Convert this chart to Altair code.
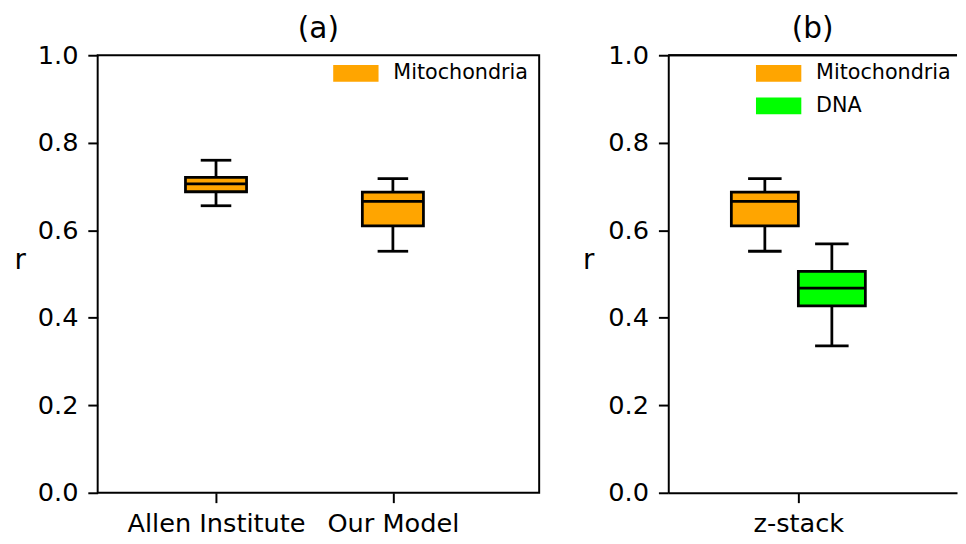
import altair as alt
import pandas as pd

# ---------------- data ----------------
a_groups = ["Allen Institute", "Our Model"]
a_series = ["Mitochondria", "Mitochondria"]
a_lower = [0.656, 0.552]
a_q1 = [0.688, 0.610]
a_median = [0.706, 0.666]
a_q3 = [0.721, 0.687]
a_upper = [0.760, 0.718]

b_groups = ["z-stack"]
b_series = ["Mitochondria", "DNA"]
b_lower = [0.552, 0.336]
b_q1 = [0.610, 0.427]
b_median = [0.666, 0.468]
b_q3 = [0.687, 0.506]
b_upper = [0.718, 0.569]

series_names = ["Mitochondria", "DNA"]
series_colors = ["#FFA500", "#00FF00"]
y_ticks = [0.0, 0.2, 0.4, 0.6, 0.8, 1.0]
panel_titles = ["(a)", "(b)"]
y_title = "r"

# ---------------- styling ----------------
FONT = "DejaVu Sans"
LW = 2.8
BLACK = "black"

# box positions (layout only)
a_pos = [i + 1 for i in range(len(a_groups))]
b_pos = [1 + (i - (len(b_series) - 1) / 2) * 0.4 for i in range(len(b_series))]

df_a = pd.DataFrame({"series": a_series, "lower": a_lower, "q1": a_q1,
                     "median": a_median, "q3": a_q3, "upper": a_upper, "pos": a_pos})
df_b = pd.DataFrame({"series": b_series, "lower": b_lower, "q1": b_q1,
                     "median": b_median, "q3": b_q3, "upper": b_upper, "pos": b_pos})


def y_axis(domain, title_x):
    return alt.Axis(values=y_ticks, format=".1f", title=y_title, titleAngle=0,
                    titleX=title_x, titleY=216, titleAlign="left",
                    titleBaseline="alphabetic", domain=domain)


def x_axis(labels, domain):
    expr = " : ".join(
        [f"datum.value == {i + 1} ? '{lab}'" for i, lab in enumerate(labels)]
    ) + " : ''"
    return alt.Axis(values=[i + 1 for i in range(len(labels))], labelExpr=expr,
                    title=None, domain=domain)


def legend(lx, ly):
    return alt.Legend(orient="none", legendX=lx, legendY=ly, title=None,
                      symbolType="M-1,-0.37H1V0.37H-1Z", symbolSize=2116,
                      symbolStrokeWidth=0, labelFontSize=21, labelFont=FONT,
                      labelColor=BLACK, labelOffset=15, padding=0,
                      rowPadding=0, labelLimit=0)


def panel(df, xdomain, half, xaxis, yaxis, cdomain, crange, leg, top_line):
    base = alt.Chart(df).transform_calculate(
        x1=f"datum.pos - {half}", x2=f"datum.pos + {half}",
        c1=f"datum.pos - {half / 2}", c2=f"datum.pos + {half / 2}")
    xs = alt.Scale(domain=xdomain, nice=False, zero=False)
    ys = alt.Scale(domain=[0, 1], nice=False, zero=False)
    whisk = base.mark_rule(color=BLACK, strokeWidth=LW).encode(
        x=alt.X("pos:Q", scale=xs, axis=xaxis),
        y=alt.Y("lower:Q", scale=ys, axis=yaxis),
        y2="upper:Q")
    cap_lo = base.mark_rule(color=BLACK, strokeWidth=LW).encode(
        x=alt.X("c1:Q"), x2="c2:Q", y=alt.Y("lower:Q"))
    cap_hi = base.mark_rule(color=BLACK, strokeWidth=LW).encode(
        x=alt.X("c1:Q"), x2="c2:Q", y=alt.Y("upper:Q"))
    box = base.mark_rect(stroke=BLACK, strokeWidth=LW).encode(
        x=alt.X("x1:Q"), x2="x2:Q",
        y=alt.Y("q1:Q"), y2="q3:Q",
        fill=alt.Fill("series:N", scale=alt.Scale(domain=cdomain, range=crange),
                      legend=leg))
    med = base.mark_rule(color=BLACK, strokeWidth=LW).encode(
        x=alt.X("x1:Q"), x2="x2:Q", y=alt.Y("median:Q"))
    layers = [whisk, cap_lo, cap_hi, box, med]
    if top_line:
        # top frame line at the top of the y domain (panel b has no right edge)
        layers.append(alt.Chart(df).mark_rule(color=BLACK, strokeWidth=2).encode(
            y=alt.datum(1.0)))
    return alt.layer(*layers)


def title(t):
    return alt.TitleParams(text=t, fontSize=30, font=FONT, fontWeight="normal",
                           color=BLACK, offset=-26, baseline="alphabetic",
                           anchor="middle", frame="group")


left = panel(df_a, [0.331, 2.827], 0.1727, x_axis(a_groups, False),
             y_axis(False, -85), series_names[:1], series_colors[:1],
             legend(239, -4.5), False).properties(width=448, height=444,
                                                  title=title(panel_titles[0]))

right = panel(df_b, [0.2235, 1.9471], 0.2, x_axis(b_groups, True),
              y_axis(True, -87), series_names, series_colors,
              legend(89, -4.5), True).properties(width=293, height=444,
                                                 title=title(panel_titles[1]),
                                                 view=alt.ViewBackground(stroke=None))

chart = alt.hconcat(left, right, spacing=43).resolve_scale(
    fill="independent"
).properties(
    padding={"left": 5, "top": 2, "right": 0, "bottom": 0}
).configure(font=FONT).configure_view(stroke=BLACK, strokeWidth=2).configure_axis(
    labelFontSize=26, labelFont=FONT, labelColor=BLACK, tickSize=10, tickWidth=2,
    tickColor=BLACK, grid=False, domainColor=BLACK, domainWidth=2,
    titleFontSize=28, titleFontWeight="normal", titleFont=FONT, titleColor=BLACK,
    labelLimit=0
).configure_axisY(labelPadding=10).configure_axisX(labelPadding=8, labelAngle=0)

chart.save("out.html", embed_options={"renderer": "svg", "actions": False})
